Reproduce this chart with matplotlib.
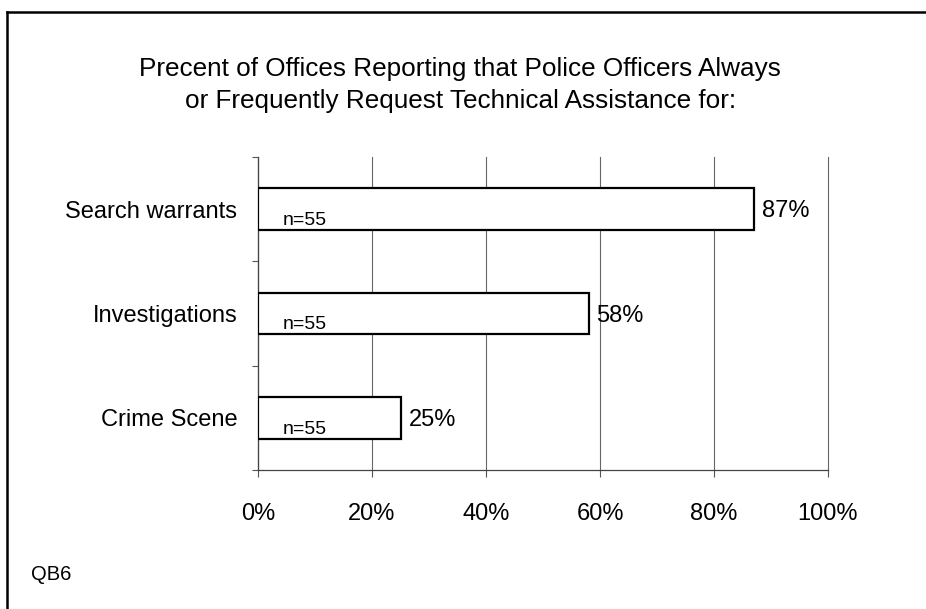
import matplotlib
matplotlib.use("Agg")
from matplotlib import pyplot as plt
import numpy as np

categories = ["Search warrants", "Investigations", "Crime Scene"]
values = [87, 58, 25]
n_labels = ["n=55", "n=55", "n=55"]
xticks = [0, 20, 40, 60, 80, 100]
xtick_labels = ["0%", "20%", "40%", "60%", "80%", "100%"]

plt.rcParams['font.family'] = ['Liberation Sans', 'DejaVu Sans']

fig = plt.figure(figsize=(9.26, 6.09), dpi=100)
ax = fig.add_axes([258 / 926, 1 - 470 / 609, 570 / 926, 313 / 609])

y = np.arange(len(categories))[::-1]
ax.barh(y, values, height=0.40, color='white', edgecolor='black', linewidth=1.6, zorder=3)

for yi, v, n in zip(y, values, n_labels):
    ax.text(v + 1.4, yi - 0.02, f"{v}%", va='center', ha='left', fontsize=17)
    ax.text(4.3, yi - 0.11, n, va='center', ha='left', fontsize=14)

ax.set_xlim(0, 100)
ax.set_ylim(-0.5, 2.5)
ax.set_xticks(xticks)
ax.set_xticklabels(xtick_labels, fontsize=17)
ax.set_yticks(y)
ax.set_yticklabels(categories, fontsize=17)
ax.tick_params(axis='y', length=0, pad=15)
ax.set_yticks([-0.5, 0.5, 1.5, 2.5], minor=True)
ax.tick_params(axis='y', which='minor', length=4, width=0.8, color='#555555')
ax.tick_params(axis='x', length=5, width=0.8, color='#555555', pad=19)
ax.xaxis.grid(True, color='#666666', linewidth=0.8, zorder=0)
for gl in ax.get_xgridlines():
    gl.set_clip_on(False)

for s in ['top', 'right']:
    ax.spines[s].set_visible(False)
for s in ['left', 'bottom']:
    ax.spines[s].set_color('#444444')
    ax.spines[s].set_linewidth(0.9)

fig.text(0.497, 1 - 85 / 609,
         "Precent of Offices Reporting that Police Officers Always\nor Frequently Request Technical Assistance for:",
         ha='center', va='center', fontsize=18.8, linespacing=1.42)
fig.text(31 / 926, 1 - 575 / 609, "QB6", ha='left', va='center', fontsize=14.5)

# outer frame: top and left only
fig.add_artist(plt.Line2D([7 / 926, 1], [1 - 12 / 609, 1 - 12 / 609], color='black', linewidth=1.8,
                          transform=fig.transFigure))
fig.add_artist(plt.Line2D([7 / 926, 7 / 926], [0, 1 - 12 / 609], color='black', linewidth=1.8,
                          transform=fig.transFigure))

fig.savefig("out.png", dpi=100)
